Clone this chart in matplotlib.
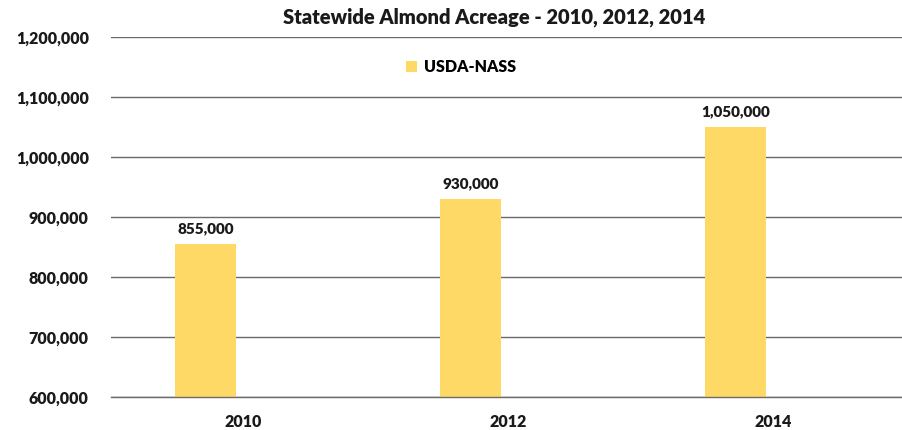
import matplotlib
matplotlib.use("Agg")
import matplotlib.pyplot as plt
from matplotlib.ticker import FuncFormatter

years = ["2010", "2012", "2014"]
acreage = [855000, 930000, 1050000]
series_name = "USDA-NASS"
title = "Statewide Almond Acreage - 2010, 2012, 2014"
yticks = [600000, 700000, 800000, 900000, 1000000, 1100000, 1200000]

plt.rcParams['font.family'] = ['Lato', 'DejaVu Sans']

fig = plt.figure(figsize=(9.02, 4.30), dpi=100)
ax = fig.add_axes([111/902, 1 - 397/430, 1 - 111/902, (397 - 37)/430])

bar_color = "#FFD966"
x = list(range(len(years)))
offset = -0.143
bw = 0.23
bars = ax.bar([i + offset for i in x], acreage, width=bw, color=bar_color,
              label=series_name, zorder=3)

for b, v in zip(bars, acreage):
    ax.annotate(f"{v:,.0f}", (b.get_x() + b.get_width() / 2, v),
                xytext=(0, 6), textcoords="offset points", ha="center",
                va="bottom", fontsize=11, fontweight="heavy", color="#1a1a1a")

ax.set_ylim(600000, 1200000)
ax.set_yticks(yticks)
ax.yaxis.set_major_formatter(FuncFormatter(lambda v, p: f"{v:,.0f}"))
ax.set_xlim(-0.5, 2.5 - 4/265)
ax.set_xticks(x)
ax.set_xticklabels(years)

ax.grid(axis="y", color="#6a6a6a", linewidth=1.0, zorder=0)
for s in ["top", "right", "left"]:
    ax.spines[s].set_visible(False)
ax.spines["bottom"].set_color("#6a6a6a")
ax.spines["bottom"].set_linewidth(1.0)
ax.spines["bottom"].set_zorder(4)
ax.tick_params(axis="both", length=0, labelsize=11.5, colors="#1a1a1a")
ax.tick_params(axis="y", pad=16)
ax.tick_params(axis="x", pad=12)
for lbl in ax.get_xticklabels() + ax.get_yticklabels():
    lbl.set_fontweight("heavy")

fig.text(494/902, 1 - 17/430, title, ha="center", va="center",
         fontsize=14.5, fontweight="heavy", color="#1a1a1a")

leg = ax.legend(loc="center", bbox_to_anchor=((461 - 111) / 791, (397 - 67) / 360),
                frameon=False, prop={"weight": "heavy", "size": 11.5},
                handlelength=0.7, handleheight=0.7, handletextpad=0.4)

fig.savefig("out.png", dpi=100)
